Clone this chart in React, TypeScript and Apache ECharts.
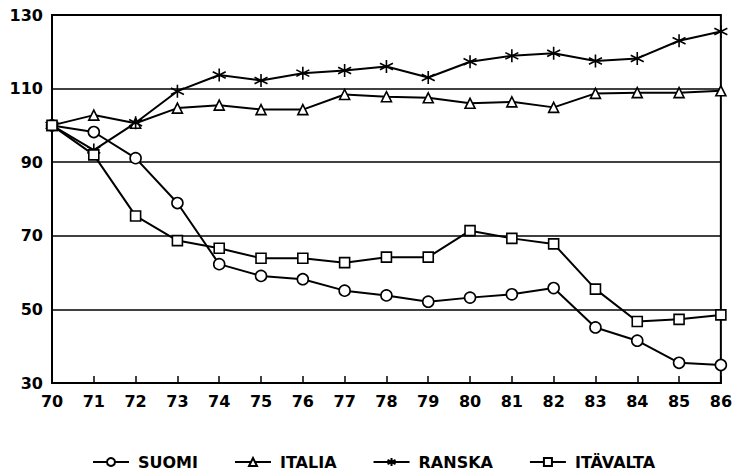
import React, { useEffect, useRef } from "react";
import * as echarts from "echarts";

const years = ["70","71","72","73","74","75","76","77","78","79","80","81","82","83","84","85","86"];
const suomi = [100, 98.2, 91.1, 78.9, 62.3, 59.1, 58.2, 55.1, 53.8, 52.1, 53.2, 54.1, 55.8, 45.1, 41.5, 35.5, 34.9];
const italia = [100, 102.8, 100.6, 104.7, 105.5, 104.3, 104.3, 108.4, 107.8, 107.5, 106, 106.4, 104.9, 108.7, 108.9, 108.9, 109.4];
const ranska = [100, 93.3, 100.7, 109.3, 113.7, 112.2, 114.2, 114.9, 116, 113, 117.3, 118.9, 119.6, 117.5, 118.2, 123, 125.5];
const itavalta = [100, 92, 75.4, 68.7, 66.6, 63.9, 63.9, 62.7, 64.2, 64.2, 71.4, 69.3, 67.8, 55.5, 46.7, 47.3, 48.5];

const FONT = "DejaVu Sans";
const STAR = "path://M0,-6L0,6M-5.2,-3L5.2,3M-5.2,3L5.2,-3";

export default function App() {
  const ref = useRef<HTMLDivElement>(null);
  useEffect(() => {
    const chart = echarts.init(ref.current!, null, { renderer: "svg" });
    const mk = (name: string, data: number[], symbol: string, size: number) => ({
      name,
      type: "line",
      data,
      symbol,
      symbolSize: size,
      showAllSymbol: true,
      lineStyle: { color: "#000", width: 2 },
      itemStyle: { color: symbol === STAR ? "#000" : "#fff", borderColor: "#000", borderWidth: 1.6 },
      emphasis: { disabled: true },
    });
    chart.setOption({
      animation: false,
      backgroundColor: "#fff",
      grid: { left: 52, right: 12, top: 15, bottom: 88, show: true, borderColor: "#000", borderWidth: 2, backgroundColor: "transparent" },
      legend: {
        left: 87,
        top: 449,
        itemWidth: 36,
        itemHeight: 10,
        itemGap: 36,
        data: ["SUOMI", "ITALIA", "RANSKA", "ITÄVALTA"],
        textStyle: { fontFamily: FONT, fontWeight: "bold", fontSize: 16, color: "#000", padding: [0, 0, 0, 4] },
      },
      xAxis: {
        type: "category",
        data: years,
        boundaryGap: false,
        axisLine: { show: true, lineStyle: { color: "#000", width: 2 } },
        axisTick: { show: true, inside: true, length: 7, lineStyle: { color: "#000", width: 1.5 } },
        axisLabel: { fontFamily: FONT, fontWeight: "bold", fontSize: 16, color: "#000", margin: 10, interval: 0 },
        splitLine: { show: false },
      },
      yAxis: {
        type: "value",
        min: 30,
        max: 130,
        interval: 20,
        axisLine: { show: true, lineStyle: { color: "#000", width: 2 } },
        axisTick: { show: false },
        axisLabel: { fontFamily: FONT, fontWeight: "bold", fontSize: 16, color: "#000", margin: 9 },
        splitLine: { show: true, lineStyle: { color: "#000", width: 1.6 } },
      },
      series: [
        mk("SUOMI", suomi, "circle", 11),
        mk("ITALIA", italia, "triangle", 10),
        mk("RANSKA", ranska, STAR, 13),
        mk("ITÄVALTA", itavalta, "rect", 10),
      ],
    });
    return () => chart.dispose();
  }, []);
  return <div ref={ref} style={{ position: "fixed", left: 0, top: 0, width: 735, height: 471 }} />;
}
